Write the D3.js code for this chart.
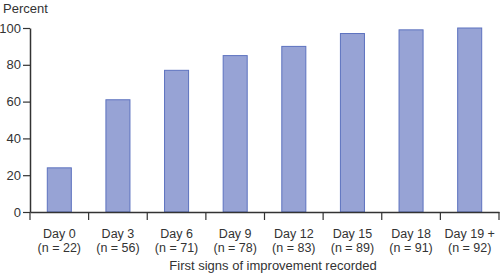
<!DOCTYPE html>
<html lang="en">
<head>
    <meta charset="utf-8">
    <title>First signs of improvement</title>
    <script src="https://d3js.org/d3.v7.min.js"></script>
    <style>
        body { margin: 0; }
        text { font-family: "Liberation Sans", Arial, sans-serif; fill: #333; }
    </style>
</head>
<body>
<svg width="500" height="275"></svg>
<script>
    var days = ["Day 0", "Day 3", "Day 6", "Day 9", "Day 12", "Day 15", "Day 18", "Day 19 +"];
    var counts = ["(n = 22)", "(n = 56)", "(n = 71)", "(n = 78)", "(n = 83)", "(n = 89)", "(n = 91)", "(n = 92)"];
    var percent = [24, 61, 77, 85, 90, 97, 99, 100];
    var yTicks = [0, 20, 40, 60, 80, 100];

    var marge = {top: 28, bottom: 63, left: 30, right: 1};
    var svg = d3.select("svg");
    var width = +svg.attr("width");
    var height = +svg.attr("height");
    var innerW = width - marge.left - marge.right;
    var innerH = height - marge.top - marge.bottom;

    var g = svg.append("g")
        .attr("transform", "translate(" + marge.left + "," + marge.top + ")");

    var xScale = d3.scaleBand()
        .domain(days)
        .range([0, innerW])
        .paddingInner(0.59)
        .paddingOuter(0.295);

    var yScale = d3.scaleLinear()
        .domain([0, 100])
        .range([innerH, 0]);

    // bars
    g.selectAll(".bar")
        .data(percent)
        .enter()
        .append("rect")
        .attr("class", "bar")
        .attr("x", function(d, i) { return xScale(days[i]); })
        .attr("y", function(d) { return yScale(d); })
        .attr("width", xScale.bandwidth())
        .attr("height", function(d) { return innerH - yScale(d); })
        .attr("fill", "#97a3d5")
        .attr("stroke", "#5d72bf")
        .attr("stroke-width", 1);

    // y axis
    var yAxis = d3.axisLeft(yScale)
        .tickValues(yTicks)
        .tickSize(7)
        .tickSizeOuter(0)
        .tickPadding(2);
    var gy = g.append("g").call(yAxis);
    gy.select(".domain").attr("stroke", "#333").attr("stroke-width", 1.5);
    gy.selectAll(".tick line").attr("stroke", "#333").attr("stroke-width", 1.2);
    gy.selectAll(".tick text")
        .style("font-size", "13px")
        .attr("fill", "#333");

    // x axis: labels centred in bands, ticks at band edges
    var xAxis = d3.axisBottom(xScale).tickSize(0).tickSizeOuter(0).tickPadding(0);
    var gx = g.append("g")
        .attr("transform", "translate(0," + innerH + ")")
        .call(xAxis);
    gx.select(".domain").attr("stroke", "#333").attr("stroke-width", 1.5);
    gx.selectAll(".tick text").remove();
    gx.selectAll(".tick").each(function(d, i) {
        var tk = d3.select(this);
        tk.append("text")
            .attr("text-anchor", "middle")
            .attr("y", 26)
            .style("font-size", "12.5px")
            .text(d);
        tk.append("text")
            .attr("text-anchor", "middle")
            .attr("y", 40)
            .style("font-size", "12.5px")
            .text(counts[i]);
    });

    var edges = days.map(function(d) { return xScale(d) - xScale.step() * xScale.paddingInner() / 2; });
    edges.push(innerW);
    gx.selectAll(".edge")
        .data(edges)
        .enter()
        .append("line")
        .attr("class", "edge")
        .attr("x1", function(d) { return d; })
        .attr("x2", function(d) { return d; })
        .attr("y1", 0)
        .attr("y2", 8)
        .attr("stroke", "#333")
        .attr("stroke-width", 1.2);

    // titles
    svg.append("text")
        .attr("x", 3)
        .attr("y", 13)
        .style("font-size", "13px")
        .text("Percent");

    svg.append("text")
        .attr("x", 273)
        .attr("y", 270)
        .attr("text-anchor", "middle")
        .style("font-size", "13px")
        .text("First signs of improvement recorded");
</script>
</body>
</html>
